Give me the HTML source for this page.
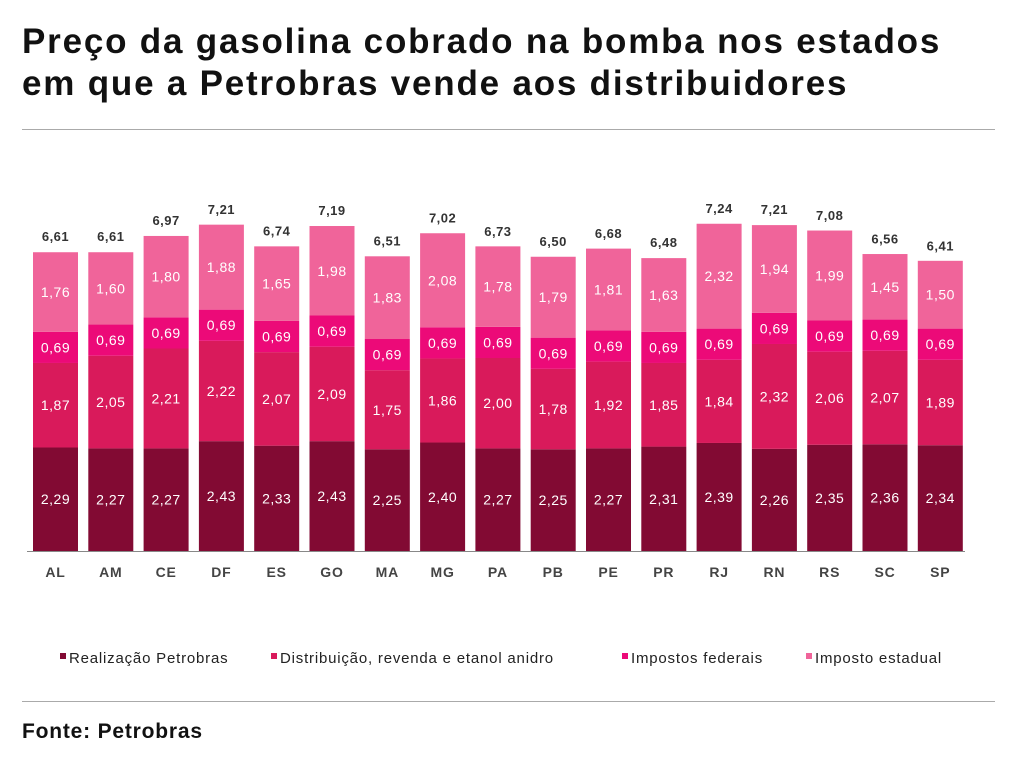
<!DOCTYPE html>
<html><head><meta charset="utf-8"><style>
body{margin:0;width:1013px;height:767px;background:#fff;font-family:"Liberation Sans",sans-serif;overflow:hidden;position:relative}
h1{position:absolute;left:22px;top:21px;margin:0;font-size:35px;line-height:42px;font-weight:bold;color:#111;letter-spacing:1.8px;white-space:nowrap}
.hr{position:absolute;left:22px;width:973px;height:1px;background:#aaa}
#src{position:absolute;left:22px;top:720px;font-size:21px;font-weight:bold;color:#111;letter-spacing:0.8px}
</style></head><body>
<h1>Preço da gasolina cobrado na bomba nos estados<br>em que a Petrobras vende aos distribuidores</h1>
<div class="hr" style="top:129px"></div>
<div class="hr" style="top:701px"></div>
<div id="src">Fonte: Petrobras</div>
<svg id="c" width="1013" height="767" style="position:absolute;left:0;top:0"></svg>
<script>
const categories=["AL","AM","CE","DF","ES","GO","MA","MG","PA","PB","PE","PR","RJ","RN","RS","SC","SP"];
const realizacao=[2.29,2.27,2.27,2.43,2.33,2.43,2.25,2.40,2.27,2.25,2.27,2.31,2.39,2.26,2.35,2.36,2.34];
const distribuicao=[1.87,2.05,2.21,2.22,2.07,2.09,1.75,1.86,2.00,1.78,1.92,1.85,1.84,2.32,2.06,2.07,1.89];
const federais=[0.69,0.69,0.69,0.69,0.69,0.69,0.69,0.69,0.69,0.69,0.69,0.69,0.69,0.69,0.69,0.69,0.69];
const estadual=[1.76,1.60,1.80,1.88,1.65,1.98,1.83,2.08,1.78,1.79,1.81,1.63,2.32,1.94,1.99,1.45,1.50];
const totals=[6.61,6.61,6.97,7.21,6.74,7.19,6.51,7.02,6.73,6.50,6.68,6.48,7.24,7.21,7.08,6.56,6.41];
const seriesNames=["Realização Petrobras","Distribuição, revenda e etanol anidro","Impostos federais","Imposto estadual"];
const colors=["#820a33","#d91a5b","#ec0a78","#f0649a"];
const ns="http://www.w3.org/2000/svg",svg=document.getElementById('c');
const base=551,k=45.2,x0=33,pitch=55.3,bw=45;
const y=v=>base-v*k, x=i=>x0+i*pitch;
function mk(t,a,txt){const e=document.createElementNS(ns,t);for(const p in a)e.setAttribute(p,a[p]);if(txt!=null)e.textContent=txt;svg.appendChild(e);return e;}
const fmt=v=>v.toFixed(2).replace('.',',');
const series=[realizacao,distribuicao,federais,estadual];
categories.forEach((c,i)=>{
  let acc=0;
  series.forEach((s,j)=>{
    const v=s[i];
    const r=mk('rect',{x:x(i),y:y(acc+v),width:bw,height:v*k,fill:colors[j]});
    
    
    const t=mk('text',{x:x(i)+bw/2,y:y(acc+v/2)+5,'text-anchor':'middle','font-size':14,'letter-spacing':0.5,fill:'#fff'},fmt(v));
    
    
    acc+=v;
  });
  const tt=mk('text',{x:x(i)+bw/2,y:y(totals[i])-11,'text-anchor':'middle','font-size':13,'font-weight':'bold','letter-spacing':0.5,fill:'#333'},fmt(totals[i]));
  
  
  const cl=mk('text',{x:x(i)+bw/2,y:577,'text-anchor':'middle','font-size':14,'font-weight':'bold','letter-spacing':0.8,fill:'#444'},c);
  
  
});
const ax=mk('line',{x1:27,x2:965,y1:base+0.5,y2:base+0.5,stroke:'#888','stroke-width':1});


const lx=[60,271,622,806];
seriesNames.forEach((n,j)=>{
  const r=mk('rect',{x:lx[j],y:653,width:6,height:6,fill:colors[j]});
  
  
  const t=mk('text',{x:lx[j]+9,y:663,'font-size':15,'letter-spacing':0.8,fill:'#222'},n);
  
  
});
</script>
</body></html>
